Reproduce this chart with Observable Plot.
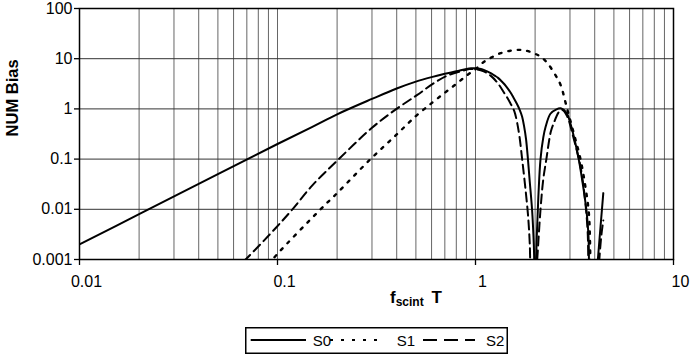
<!DOCTYPE html>
<html><head><meta charset="utf-8">
<script src="https://cdn.jsdelivr.net/npm/d3@7"></script>
<script src="https://cdn.jsdelivr.net/npm/@observablehq/plot@0.6"></script>
<style>
body{margin:0;background:#fff;font-family:"Liberation Sans",Arial,sans-serif;}
#chart{width:696px;height:357px;position:relative;overflow:hidden;background:#fff}
#legend{position:absolute;left:245px;top:327px;}
</style></head><body><div id="chart"></div>
<script>
// tick labels
const xTicks = [0.01, 0.1, 1, 10];
const yTicks = [0.001, 0.01, 0.1, 1, 10, 100];
const seriesNames = ["S0", "S1", "S2"];

// series values: [fscint*T, NUM Bias]
const S0 = [
  [0.01,0.002],[0.02,0.008],[0.05,0.05],[0.1,0.2],[0.15,0.44],[0.2,0.78],[0.3,1.58],[0.4,2.55],
  [0.5,3.5],[0.6,4.3],[0.7,5.0],[0.8,5.6],[0.9,6.25],[0.95,6.45],[1.0,6.45],[1.05,6.3],[1.1,6.0],
  [1.2,5.1],[1.25,4.6],[1.3,4.15],[1.35,3.6],[1.4,3.1],[1.45,2.6],[1.5,2.15],[1.55,1.72],
  [1.62,1.25],[1.67,0.97],[1.72,0.7],[1.76,0.45],[1.8,0.25],[1.84,0.1],[1.88,0.035],[1.93,0.01],
  [1.97,0.002],[2.0,0.0002],[2.04,0.003],[2.08,0.02],[2.13,0.1],[2.2,0.27],[2.26,0.44],
  [2.39,0.8],[2.55,0.97],[2.71,1.02],[2.9,0.8],[3.0,0.55],[3.14,0.28],[3.32,0.1],[3.52,0.024],
  [3.65,0.008],[3.72,0.003],[3.78,0.0003],[3.95,0.0001],[4.1,0.0005],[4.15,0.001],[4.28,0.0045],[4.42,0.021]
];
const S1 = [
  [0.09,0.0008],[0.1,0.0013],[0.165,0.01],[0.2,0.021],[0.295,0.1],[0.4,0.31],[0.5,0.72],[0.6,1.3],
  [0.7,2.1],[0.8,3.15],[0.9,4.6],[1.0,6.2],[1.1,8.6],[1.2,10.5],[1.34,12.9],[1.5,14.4],[1.66,15.0],
  [1.8,14.5],[2.0,12.5],[2.13,11.0],[2.3,8.3],[2.53,4.75],[2.69,3.0],[2.9,1.02],[3.14,0.32],
  [3.39,0.1],[3.59,0.028],[3.74,0.008],[3.82,0.0005],[3.9,0.0001]
];
const S2 = [
  [0.06,0.0006],[0.069,0.001],[0.0977,0.0042],[0.119,0.01],[0.15,0.03],[0.204,0.1],[0.3,0.42],
  [0.399,1.0],[0.508,1.9],[0.616,3.25],[0.72,4.6],[0.857,5.7],[0.93,6.2],[1.0,6.2],[1.1,5.6],
  [1.2,4.5],[1.3,3.2],[1.4,2.05],[1.45,1.65],[1.5,1.3],[1.57,0.9],[1.62,0.55],[1.67,0.27],
  [1.72,0.1],[1.78,0.03],[1.84,0.008],[1.88,0.002],[1.91,0.0002],[1.97,0.0001],[2.05,0.001],
  [2.13,0.01],[2.2,0.04],[2.28,0.1],[2.4,0.35],[2.48,0.51],[2.64,0.87],[2.75,0.95],[2.9,0.72],
  [3.1,0.3],[3.37,0.08],[3.55,0.02],[3.68,0.004],[3.74,0.0005],[3.9,0.0001],[4.15,0.0004],
  [4.22,0.001],[4.32,0.003],[4.42,0.006]
];

const seriesData = [S0, S1, S2];
const chartDash = [null, "2.5,7", "9,5"];
const legendDash = [null, "3,8", "14,7"];

const xGrid = xTicks.slice(0, -1).flatMap(d => [1,2,3,4,5,6,7,8,9].map(k => k * d)).concat([10]);

const lineMarks = seriesData.map((s, i) =>
  Plot.line(s.map(([x, y]) => ({x, y, series: seriesNames[i]})), {
    x: "x", y: "y", stroke: "black", strokeWidth: i === 1 ? 2.4 : 2,
    strokeDasharray: chartDash[i] || undefined, curve: "catmull-rom", clip: true
  })
);

const plot = Plot.plot({
  width: 696, height: 320,
  marginLeft: 79, marginRight: 23, marginTop: 8, marginBottom: 61,
  style: {fontFamily: "Liberation Sans, Arial, sans-serif", fontSize: "16px", background: "white", color: "black"},
  x: {type: "log", domain: [0.01, 10]},
  y: {type: "log", domain: [0.001, 100]},
  marks: [
    Plot.ruleX(xGrid, {stroke: "#666", strokeWidth: 1}),
    Plot.ruleY(yTicks, {stroke: "#333", strokeWidth: 1}),
    ...lineMarks,
    Plot.axisY(yTicks, {tickSize: 5, tickPadding: 2, tickFormat: d => String(d), label: null, fontSize: 16, strokeWidth: 1.3}),
    Plot.axisX(xTicks, {tickSize: 6, tickFormat: () => "", label: null, strokeWidth: 1.3}),
    Plot.text(xTicks, {x: d => d, frameAnchor: "bottom", dy: 27, dx: 7, text: d => String(d), fontSize: 16, fill: "black"}),
    Plot.text(["NUM Bias"], {frameAnchor: "left", dx: -66.5, dy: 2.4, rotate: -90, fontWeight: "bold", fontSize: 16.5, fill: "black"}),
    Plot.frame({stroke: "black", strokeWidth: 1.5})
  ]
});

const svg = d3.select(plot);
const xl = svg.append("text").attr("x", 390).attr("y", 303).attr("text-anchor", "start")
  .attr("font-family", "Liberation Sans, Arial, sans-serif").attr("font-weight", "bold").attr("font-size", 17).attr("fill", "black");
xl.append("tspan").text("f");
xl.append("tspan").attr("font-size", 12).attr("dy", 3).text("scint");
xl.append("tspan").attr("dy", -3).attr("dx", 3).text(" T");

const chart = document.getElementById("chart");
chart.appendChild(plot);

// legend
const legendX = [[5.7, 61, 67.7], [85, 138, 151.7], [178, 230, 241]];
const leg = d3.select(chart).append("svg").attr("id", "legend").attr("width", 263).attr("height", 27);
leg.append("rect").attr("x", 0.75).attr("y", 0.75).attr("width", 261.5).attr("height", 25.5)
  .attr("fill", "white").attr("stroke", "black").attr("stroke-width", 1.5);
seriesNames.forEach((name, i) => {
  const [a, b, t] = legendX[i];
  const l = leg.append("line").attr("x1", a).attr("x2", b).attr("y1", 13).attr("y2", 13)
    .attr("stroke", "black").attr("stroke-width", 2);
  if (legendDash[i]) l.attr("stroke-dasharray", legendDash[i]);
  leg.append("text").attr("x", t).attr("y", 18.5).attr("font-size", 15)
    .attr("font-family", "Liberation Sans, Arial, sans-serif").attr("fill", "black").text(name);
});
</script></body></html>
